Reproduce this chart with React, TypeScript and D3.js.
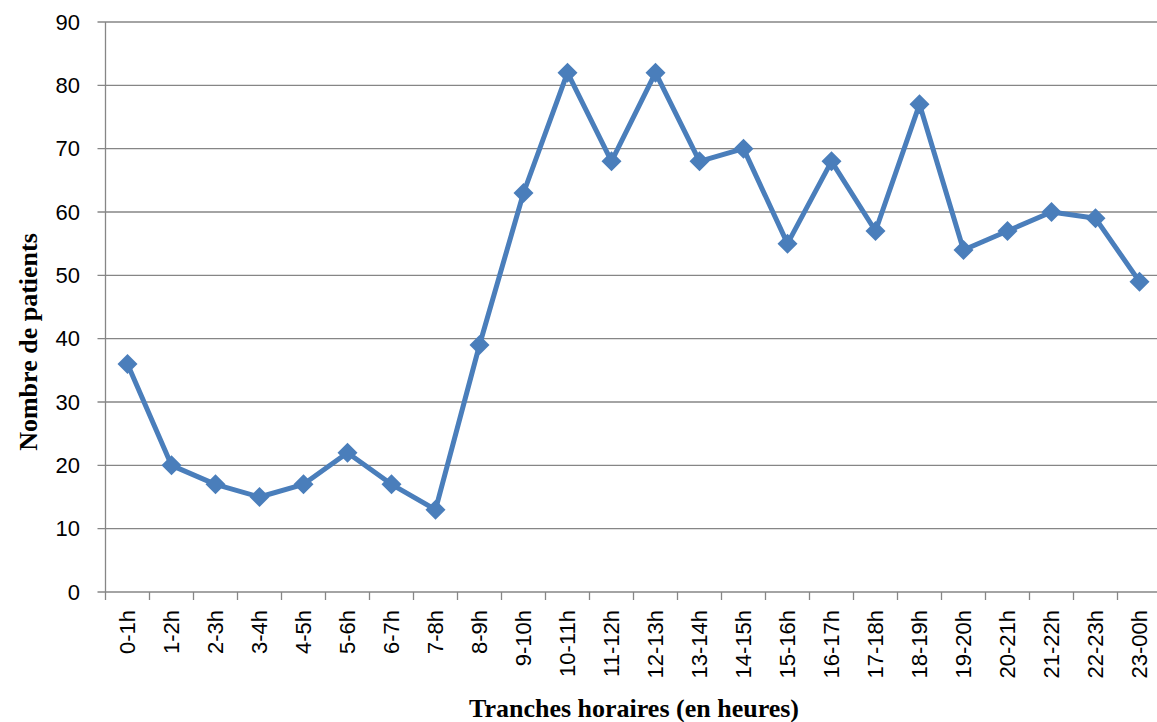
import React from "react";
import * as d3 from "d3";

const categories: string[] = [
  "0-1h", "1-2h", "2-3h", "3-4h", "4-5h", "5-6h", "6-7h", "7-8h",
  "8-9h", "9-10h", "10-11h", "11-12h", "12-13h", "13-14h", "14-15h", "15-16h",
  "16-17h", "17-18h", "18-19h", "19-20h", "20-21h", "21-22h", "22-23h", "23-00h",
];

const patients: number[] = [
  36, 20, 17, 15, 17, 22, 17, 13, 39, 63, 82, 68,
  82, 68, 70, 55, 68, 57, 77, 54, 57, 60, 59, 49,
];

const yTicks: number[] = [0, 10, 20, 30, 40, 50, 60, 70, 80, 90];

const xTitle = "Tranches horaires (en heures)";
const yTitle = "Nombre de patients";

const W = 1157;
const H = 722;
const left = 105.5;
const right = 1161.5;
const top = 22;
const bottom = 592;

const axisColor = "#868686";
const lineColor = "#4a7ebb";
const tickFont = "'Liberation Sans', Arial, sans-serif";
const titleFont = "'Liberation Serif', 'Times New Roman', serif";

export default function App() {
  const x = d3.scaleBand<string>().domain(categories).range([left, right]).paddingInner(0).paddingOuter(0);
  const y = d3.scaleLinear().domain([0, 90]).range([bottom, top]);
  const cx = (c: string) => (x(c) as number) + x.bandwidth() / 2;

  const line = d3
    .line<number>()
    .x((_, i) => cx(categories[i]))
    .y((d) => y(d));

  const boundaries = categories.map((c) => x(c) as number).concat([right]);
  const r = 10;
  const diamond = `M0,${-r}L${r},0L0,${r}L${-r},0Z`;

  return (
    <svg
      width={W}
      height={H}
      style={{ position: "absolute", left: 0, top: 0, background: "#fff" }}
    >
      {/* horizontal gridlines */}
      {yTicks.map((t) => (
        <line
          key={`g${t}`}
          x1={left - 8}
          x2={right}
          y1={y(t)}
          y2={y(t)}
          stroke={axisColor}
          strokeWidth={1.3}
        />
      ))}
      {/* y axis */}
      <line x1={left} x2={left} y1={top} y2={bottom} stroke={axisColor} strokeWidth={1.3} />
      {yTicks.map((t) => (
        <text
          key={`yl${t}`}
          x={80}
          y={y(t)}
          textAnchor="end"
          dominantBaseline="central"
          fontFamily={tickFont}
          fontSize={22}
          fill="#000"
        >
          {t}
        </text>
      ))}
      {/* x axis ticks */}
      {boundaries.map((b, i) => (
        <line key={`xt${i}`} x1={b} x2={b} y1={bottom} y2={bottom + 8} stroke={axisColor} strokeWidth={1.3} />
      ))}
      {categories.map((c) => (
        <text
          key={`xl${c}`}
          transform={`translate(${cx(c)},${610}) rotate(-90)`}
          textAnchor="end"
          dominantBaseline="central"
          fontFamily={tickFont}
          fontSize={22}
          fill="#000"
        >
          {c}
        </text>
      ))}
      {/* series */}
      <path
        d={line(patients) ?? ""}
        fill="none"
        stroke={lineColor}
        strokeWidth={5}
        strokeLinejoin="round"
      />
      {patients.map((v, i) => (
        <path
          key={`m${i}`}
          d={diamond}
          transform={`translate(${cx(categories[i])},${y(v)})`}
          fill={lineColor}
        />
      ))}
      {/* axis titles */}
      <text
        x={634}
        y={717}
        textAnchor="middle"
        fontFamily={titleFont}
        fontWeight="bold"
        fontSize={26}
        fill="#000"
      >
        {xTitle}
      </text>
      <text
        transform={`translate(37,${342}) rotate(-90)`}
        textAnchor="middle"
        fontFamily={titleFont}
        fontWeight="bold"
        fontSize={26}
        fill="#000"
      >
        {yTitle}
      </text>
    </svg>
  );
}
